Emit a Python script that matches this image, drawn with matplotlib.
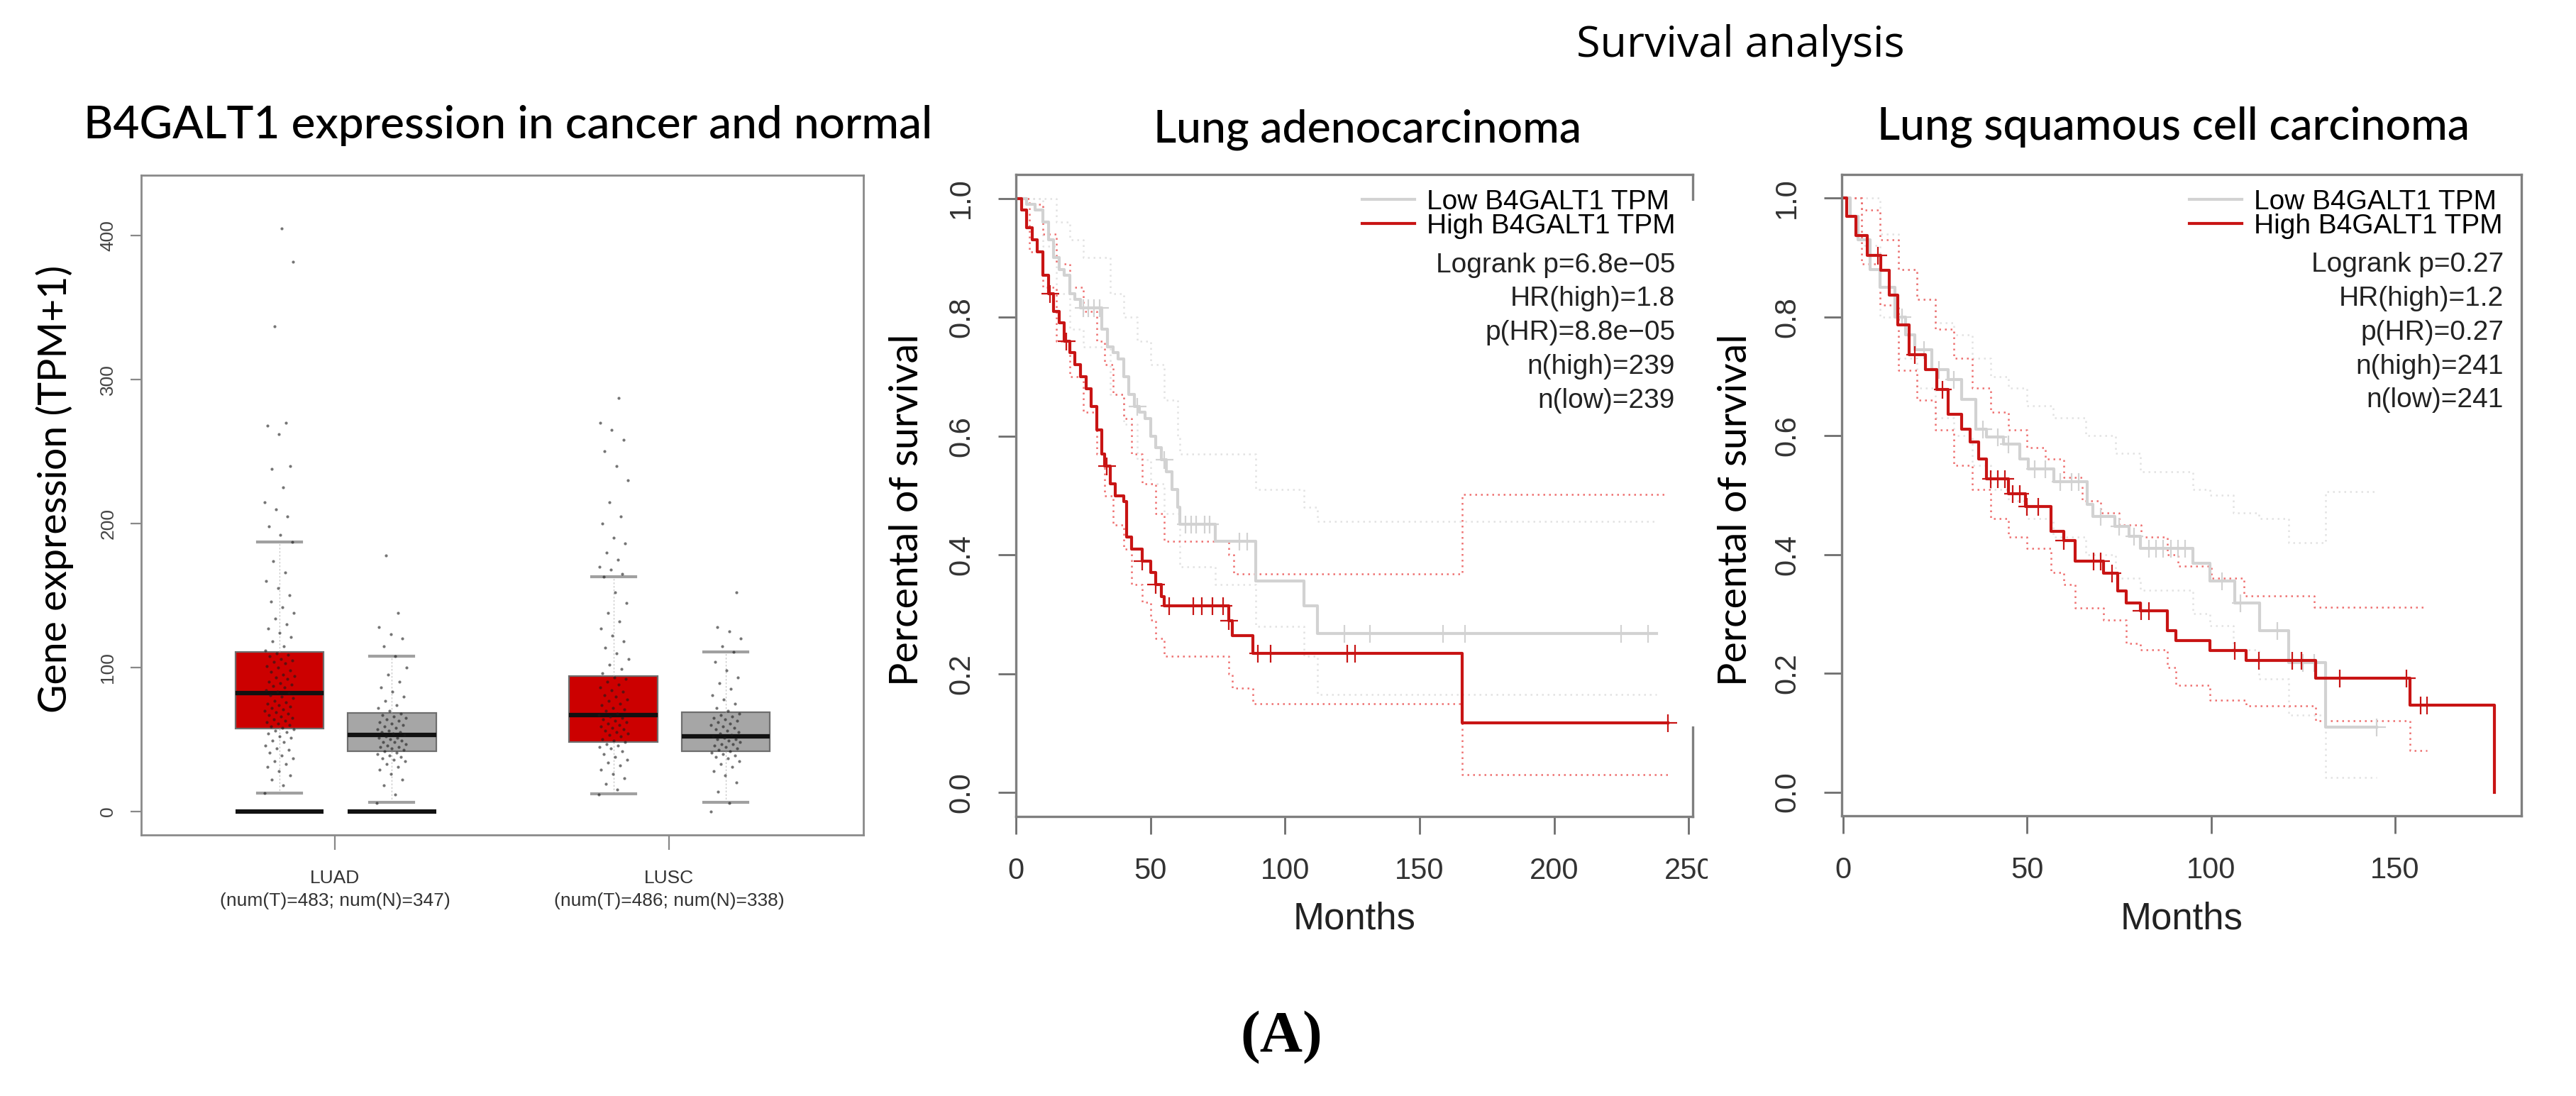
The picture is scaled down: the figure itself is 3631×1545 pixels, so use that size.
import numpy as np
import matplotlib
matplotlib.use("Agg")
import matplotlib.pyplot as plt
from matplotlib.lines import Line2D
from matplotlib.patches import Rectangle

plt.rcParams['font.family'] = ['Liberation Sans', 'DejaVu Sans']

W, H = 3631, 1545

# ---------------- box plot data ----------------
box_groups = ["LUAD\n(num(T)=483; num(N)=347)", "LUSC\n(num(T)=486; num(N)=338)"]
# stats per box: tumor LUAD, normal LUAD, tumor LUSC, normal LUSC
box_q1 = [57.6, 42, 48, 42]
box_med = [82, 53, 67, 52]
box_q3 = [111, 68.5, 94, 69]
box_wlo = [13, 6.4, 12.5, 6.4]
box_whi = [187, 108, 163, 111]
zero_bar = [0, 0]  # flat bars at 0 under LUAD

luad_t = [13, 18, 22, 25, 28, 31, 33, 35, 37, 39, 41, 43, 44, 46, 48, 49, 51, 52, 54, 55, 56, 57,
          58, 59, 60, 61, 62, 63, 64, 65, 66, 67, 68, 69, 70, 71, 72, 73, 74, 75, 76, 77, 79, 80, 81,
          82, 83, 84, 86, 87, 88, 89, 90, 92, 93, 94, 95, 97, 98, 100, 101, 103, 104, 105, 106, 108, 109, 110,
          112, 115, 118, 121, 124, 127, 130, 134, 138, 142, 146, 150, 155, 160, 166, 174, 187,
          192, 198, 205, 210, 215, 225, 238, 240, 262, 268, 270, 337, 382, 405]
luad_n = [6, 12, 18, 22, 26, 29, 31, 33, 35, 36, 37, 38, 39, 40, 41,
          42, 43, 44, 45, 45, 46, 47, 48, 48, 49, 50, 51, 51, 52,
          53, 54, 55, 55, 56, 57, 58, 59, 60, 61, 62, 63, 64, 65, 66, 67, 68,
          70, 72, 74, 77, 80, 83, 86, 90, 95, 100, 108,
          115, 120, 123, 128, 138, 178]
lusc_t = [12, 15, 19, 23, 26, 29, 32, 34, 36, 38, 40, 42, 44, 45, 46, 47,
          48, 49, 50, 52, 53, 54, 55, 56, 57, 58, 59, 60, 61, 62, 63, 64, 65, 66,
          67, 68, 70, 71, 72, 74, 75, 77, 78, 80, 81, 83, 84, 86, 88, 90, 92, 93,
          96, 99, 102, 106, 110, 114, 118, 122, 127, 132, 138, 145, 152, 163,
          165, 168, 170, 175, 180, 186, 190, 200, 205, 215, 230, 240, 250, 258, 265, 270, 287]
lusc_n = [0, 6, 14, 20, 25, 28, 31, 33, 35, 37, 38, 39, 40, 41,
          42, 43, 44, 45, 46, 47, 47, 48, 49, 50, 50, 51,
          52, 53, 54, 55, 56, 57, 58, 59, 60, 61, 62, 63, 64, 65, 66, 67, 68,
          70, 72, 75, 78, 81, 85, 89, 93, 98, 104, 111,
          115, 120, 125, 128, 152]

# ---------------- survival data ----------------
# Lung adenocarcinoma
luad_hi_t = [0, 2, 4, 6, 8, 10, 12, 14, 16, 18, 20, 22, 24, 26, 28, 30, 32, 33, 35, 37, 40, 41, 43, 47,
             50, 52, 54, 55, 79, 80.5, 88, 165.8]
luad_hi_s = [1.0, 0.98, 0.95, 0.93, 0.91, 0.87, 0.84, 0.81, 0.79, 0.76, 0.74, 0.72, 0.70, 0.68, 0.65,
             0.61, 0.57, 0.55, 0.52, 0.50, 0.49, 0.43, 0.41, 0.39, 0.37, 0.35, 0.33, 0.314, 0.289, 0.264,
             0.234, 0.117]
luad_hi_end = 242.3
luad_hi_cens = [12.7, 18.7, 33.8, 47, 52, 57, 66, 69, 73, 77, 79, 90, 94.7, 123, 126, 242.3]
luad_hi_up_t = [0, 5, 10, 15, 20, 25, 30, 33, 36, 40, 43, 47, 52, 55, 79, 81, 165.8]
luad_hi_up_s = [1.0, 0.99, 0.94, 0.89, 0.85, 0.81, 0.76, 0.72, 0.67, 0.63, 0.57, 0.52, 0.47, 0.423,
                0.40, 0.368, 0.502]
luad_hi_lo_t = [0, 5, 10, 15, 20, 25, 30, 33, 36, 40, 43, 47, 50, 52, 55, 79, 80.5, 88, 165.8]
luad_hi_lo_s = [1.0, 0.91, 0.85, 0.76, 0.70, 0.64, 0.57, 0.50, 0.45, 0.41, 0.35, 0.32, 0.29, 0.26,
                0.23, 0.20, 0.176, 0.15, 0.03]

luad_lo_t = [0, 4, 7, 10, 12, 14, 16, 18, 20, 22, 24, 32, 34, 36, 38, 40, 42, 44, 46, 48, 50, 52, 54,
             56, 58, 60, 61, 74, 89, 107, 112]
luad_lo_s = [1.0, 0.99, 0.98, 0.96, 0.93, 0.90, 0.88, 0.87, 0.84, 0.83, 0.816, 0.78, 0.75, 0.74, 0.73,
             0.70, 0.67, 0.65, 0.64, 0.63, 0.60, 0.58, 0.56, 0.54, 0.51, 0.48, 0.452, 0.423, 0.356,
             0.314, 0.268]
luad_lo_end = 238
luad_lo_cens = [25, 27, 29, 31, 45, 55, 63, 65, 67, 70, 72, 83, 86, 122, 131.5, 158.7, 166.8, 225, 235]
luad_lo_up_t = [0, 10, 15, 20, 25, 35, 40, 45, 50, 55, 60, 61, 89, 107, 112]
luad_lo_up_s = [1.0, 1.0, 0.96, 0.93, 0.90, 0.84, 0.80, 0.76, 0.72, 0.66, 0.60, 0.57, 0.51, 0.48, 0.456]
luad_lo_lo_t = [0, 10, 15, 20, 25, 35, 40, 45, 50, 55, 61, 74, 89, 107, 112]
luad_lo_lo_s = [1.0, 0.92, 0.84, 0.78, 0.75, 0.67, 0.62, 0.56, 0.52, 0.47, 0.38, 0.35, 0.28, 0.23, 0.165]

# Lung squamous cell carcinoma
lusc_hi_t = [0, 1, 3.5, 6.5, 10.3, 12.6, 14.8, 17.9, 22.4, 25.4, 28.5, 32.2, 34.5, 36.8, 39, 45, 49.6,
             56.5, 60, 63, 70.8, 74.6, 77, 80.7, 88, 90.5, 99.6, 109.4, 128.3, 154, 177]
lusc_hi_s = [1.0, 0.97, 0.937, 0.904, 0.879, 0.837, 0.787, 0.736, 0.711, 0.678, 0.636, 0.611, 0.59,
             0.561, 0.527, 0.502, 0.481, 0.439, 0.423, 0.389, 0.368, 0.339, 0.318, 0.305, 0.272, 0.255,
             0.238, 0.222, 0.192, 0.146, 0.0]
lusc_hi_end = 177
lusc_hi_cens = [9.5, 19.4, 27, 40, 42, 44, 46, 48, 50, 53, 60, 68, 70, 73, 81, 83, 106.4, 113, 122,
                124.6, 135, 153, 157, 158.6]
lusc_hi_up_t = [0, 5, 10, 15, 20, 25, 30, 35, 40, 45, 50, 55, 60, 65, 70, 75, 81, 88, 91, 100, 109,
                128]
lusc_hi_up_s = [1.0, 0.98, 0.93, 0.88, 0.83, 0.78, 0.73, 0.68, 0.64, 0.61, 0.58, 0.561, 0.53, 0.49,
                0.47, 0.45, 0.43, 0.40, 0.38, 0.36, 0.33, 0.311]
lusc_hi_lo_t = [0, 5, 10, 15, 20, 25, 30, 35, 40, 45, 50, 56.5, 60, 63, 70.8, 77, 80.7, 88, 90.5, 99.6,
                109.4, 128.3, 154]
lusc_hi_lo_s = [1.0, 0.89, 0.82, 0.71, 0.66, 0.61, 0.55, 0.51, 0.46, 0.43, 0.41, 0.37, 0.35, 0.31,
                0.29, 0.25, 0.24, 0.21, 0.18, 0.155, 0.145, 0.12, 0.07]
lusc_ci_end = 158.6

lusc_lo_t = [0, 2, 4, 7.3, 10, 14, 17, 19.4, 24, 28.5, 32.2, 36, 39, 43.6, 48, 50.4, 57.2, 66.3, 67.8,
             73.9, 77.6, 80.7, 95, 99.6, 106.4, 113.2, 121, 131]
lusc_lo_s = [1.0, 0.97, 0.93, 0.88, 0.85, 0.80, 0.77, 0.745, 0.711, 0.695, 0.661, 0.611, 0.598, 0.586,
             0.561, 0.544, 0.523, 0.485, 0.464, 0.448, 0.431, 0.41, 0.385, 0.356, 0.318, 0.272, 0.218,
             0.109]
lusc_lo_end = 145
lusc_lo_cens = [16, 22, 26, 30, 38, 42, 45, 52, 55, 59, 62, 64, 70, 75, 79, 83, 85, 87, 89, 91, 93,
                103, 108, 118, 125, 128, 145]
lusc_lo_up_t = [0, 5, 10, 15, 20, 25, 30, 35, 40, 45, 50, 57, 66, 74, 80.7, 95, 99.6, 106, 113, 121, 131]
lusc_lo_up_s = [1.0, 1.0, 0.94, 0.88, 0.83, 0.79, 0.77, 0.73, 0.70, 0.68, 0.65, 0.63, 0.60, 0.57, 0.54,
                0.51, 0.50, 0.47, 0.46, 0.42, 0.506]
lusc_lo_lo_t = [0, 5, 10, 15, 20, 25, 30, 35, 40, 45, 50, 57, 66, 74, 80.7, 95, 99.6, 106, 113, 121, 131]
lusc_lo_lo_s = [1.0, 0.92, 0.80, 0.73, 0.68, 0.63, 0.60, 0.55, 0.51, 0.49, 0.46, 0.43, 0.40, 0.36, 0.34,
                0.30, 0.28, 0.24, 0.19, 0.13, 0.025]

luad_stats = ["Logrank p=6.8e\u221205", "HR(high)=1.8", "p(HR)=8.8e\u221205", "n(high)=239", "n(low)=239"]
lusc_stats = ["Logrank p=0.27", "HR(high)=1.2", "p(HR)=0.27", "n(high)=241", "n(low)=241"]

RED = '#CC0000'
KM_RED = '#C81414'
KM_GRAY = '#D2D2D2'
CI_RED = '#EE7070'
CI_GRAY = '#E2E2E2'
FRAME = '#7F7F7F'


def fx(x):
    return x / W


def fy(y):
    return 1 - y / H


def add_ax(left, top, right, bottom):
    return fig.add_axes([fx(left), fy(bottom), (right - left) / W, (bottom - top) / H])


fig = plt.figure(figsize=(W / 100, H / 100), dpi=100)

# ================= box plot =================
ax = add_ax(199, 247, 1217, 1177)
positions = [0.834, 1.170, 1.834, 2.170]
bw = 0.265
stats = []
for i in range(4):
    stats.append(dict(med=box_med[i], q1=box_q1[i], q3=box_q3[i],
                      whislo=box_wlo[i], whishi=box_whi[i], fliers=[]))
bp = ax.bxp(stats, positions=positions, widths=bw, patch_artist=True, capwidths=bw * 0.5,
            boxprops=dict(edgecolor='#6E6E6E', linewidth=1.6),
            medianprops=dict(color='#111111', linewidth=4.5, solid_capstyle='butt'),
            whiskerprops=dict(color='#B0B0B0', linewidth=0.6, linestyle=(0, (3, 3))),
            capprops=dict(color='#A0A0A0', linewidth=3.0))
for patch, col in zip(bp['boxes'], [RED, '#A6A6A6', RED, '#A6A6A6']):
    patch.set_facecolor(col)

ax.hlines(zero_bar, [p - bw / 2 for p in positions[:2]], [p + bw / 2 for p in positions[:2]],
          color='#111111', linewidth=4.5, zorder=3)

for pos, vals in zip(positions, [luad_t, luad_n, lusc_t, lusc_n]):
    jit = [((k * 0.6180339887) % 1 - 0.5) * 0.09 for k in range(len(vals))]
    ax.scatter(np.array(jit) + pos, vals, s=9, color='#1A1A1A', alpha=0.6, linewidths=0, zorder=4)

ax.set_xlim(0.42, 2.582)
ax.set_ylim(-16.3, 441.9)
ax.set_xticks([1, 2])
ax.set_xticklabels(box_groups, fontsize=19, color='#333333', linespacing=1.45)
ax.set_yticks([0, 100, 200, 300, 400])
ax.tick_params(axis='y', labelrotation=90, labelsize=19, labelcolor='#444444', length=11,
               width=1.6, color='#888888', pad=14)
ax.tick_params(axis='x', length=15, width=1.6, color='#888888', pad=20)
for t in ax.get_yticklabels():
    t.set_va('center')
for s in ax.spines.values():
    s.set_color('#8A8A8A')
    s.set_linewidth(2.0)

fig.text(fx(118), fy(195), "B4GALT1 expression in cancer and normal", family='Lato', fontsize=46,
         fontweight='medium', ha='left', va='baseline')
fig.text(fx(77), fy(689), "Gene expression (TPM+1)", family='Lato', fontsize=40, rotation=90,
         ha='center', va='center')


# ================= survival plots =================
def steps(t, s, end):
    return list(t) + [end], list(s) + [s[-1]]


def at(t, s, c):
    idx = np.searchsorted(t, c, side='right') - 1
    return s[idx]


def km_panel(box, xmax, xticks, hi, lo, ci, stats_txt, title, title_x, title_y, ylab_x, xlab_x):
    a = add_ax(*box)
    (hi_t, hi_s, hi_end, hi_c), (lo_t, lo_s, lo_end, lo_c) = hi, lo
    (hu_t, hu_s, hl_t, hl_s, h_end), (lu_t, lu_s, ll_t, ll_s, l_end) = ci
    dots = (0, (1.0, 2.2))
    for tt, ss, e in [(lu_t, lu_s, l_end), (ll_t, ll_s, l_end)]:
        x, y = steps(tt, ss, e)
        a.step(x, y, where='post', color=CI_GRAY, lw=1.8, linestyle=dots)
    for tt, ss, e in [(hu_t, hu_s, h_end), (hl_t, hl_s, h_end)]:
        x, y = steps(tt, ss, e)
        a.step(x, y, where='post', color=CI_RED, lw=1.8, linestyle=dots)
    x, y = steps(lo_t, lo_s, lo_end)
    a.step(x, y, where='post', color=KM_GRAY, lw=3.0)
    a.plot(lo_c, [at(lo_t, lo_s, c) for c in lo_c], '+', color=KM_GRAY, ms=18, mew=1.6)
    x, y = steps(hi_t, hi_s, hi_end)
    a.step(x, y, where='post', color=KM_RED, lw=3.0)
    a.plot(hi_c, [at(hi_t, hi_s, c) for c in hi_c], '+', color=KM_RED, ms=18, mew=1.6)

    a.set_xlim(-0.4 if xmax < 200 else 0, xmax)
    a.set_ylim(-0.04, 1.04)
    a.set_xticks(xticks)
    a.set_xticklabels([str(v) for v in xticks])
    a.set_yticks([0, 0.2, 0.4, 0.6, 0.8, 1.0])
    a.set_yticklabels(["0.0", "0.2", "0.4", "0.6", "0.8", "1.0"])
    a.tick_params(axis='both', labelsize=30, labelcolor='#333333', length=18, width=2.0,
                  color='#6E6E6E', pad=23)
    a.tick_params(axis='y', labelrotation=90)
    for t in a.get_yticklabels():
        t.set_va('center')
    for s in a.spines.values():
        s.set_color(FRAME)
        s.set_linewidth(2.4)

    handles = [Line2D([], [], color=KM_GRAY, lw=3.0), Line2D([], [], color=KM_RED, lw=3.0)]
    a.legend(handles, ["Low B4GALT1 TPM", "High B4GALT1 TPM"], loc='upper left',
             bbox_to_anchor=(0.5115, 0.977), frameon=False, fontsize=28, handlelength=1.9,
             handletextpad=0.45, labelspacing=-0.05, borderpad=0, borderaxespad=0)
    for k, txt in enumerate(stats_txt):
        a.text(0.974, 0.859 - k * 0.0528, txt, transform=a.transAxes, ha='right', va='center',
               fontsize=28, color='#222222')

    fig.text(fx(title_x), fy(title_y), title, family='Lato', fontsize=45, fontweight='medium',
             ha='center', va='baseline')
    fig.text(fx(ylab_x), fy(719), "Percental of survival", family='Lato', fontsize=40, rotation=90,
             ha='center', va='center')
    fig.text(fx(xlab_x), fy(1310), "Months", fontsize=38, ha='center', va='baseline', color='#222222')
    return a


km_panel((1432, 246, 2386, 1151), 251.5, [0, 50, 100, 150, 200, 250],
         (luad_hi_t, luad_hi_s, luad_hi_end, luad_hi_cens),
         (luad_lo_t, luad_lo_s, luad_lo_end, luad_lo_cens),
         ((luad_hi_up_t, luad_hi_up_s, luad_hi_lo_t, luad_hi_lo_s, luad_hi_end),
          (luad_lo_up_t, luad_lo_up_s, luad_lo_lo_t, luad_lo_lo_s, luad_lo_end)),
         luad_stats, "Lung adenocarcinoma", 1927, 201, 1279, 1909)

km_panel((2596, 246, 3554, 1150), 184.3, [0, 50, 100, 150],
         (lusc_hi_t, lusc_hi_s, lusc_hi_end, lusc_hi_cens),
         (lusc_lo_t, lusc_lo_s, lusc_lo_end, lusc_lo_cens),
         ((lusc_hi_up_t, lusc_hi_up_s, lusc_hi_lo_t, lusc_hi_lo_s, lusc_ci_end),
          (lusc_lo_up_t, lusc_lo_up_s, lusc_lo_lo_t, lusc_lo_lo_s, lusc_lo_end)),
         lusc_stats, "Lung squamous cell carcinoma", 3063, 196, 2447, 3075)

# the left survival panel is partly covered by the right one in the original figure
for (x0, y0, x1, y1) in [(2382, 283, 2420, 1024), (2407, 1190, 2420, 1262)]:
    fig.add_artist(Rectangle((fx(x0), fy(y1)), (x1 - x0) / W, (y1 - y0) / H,
                             transform=fig.transFigure, facecolor='white', edgecolor='none', zorder=20))

fig.text(fx(2453), fy(80), "Survival analysis", family='Open Sans', fontsize=44, ha='center', va='baseline')
fig.text(fx(1806), fy(1482), "(A)", family='Liberation Serif', fontweight='bold', fontsize=60,
         ha='center', va='baseline')

fig.savefig("out.png", dpi=100)
